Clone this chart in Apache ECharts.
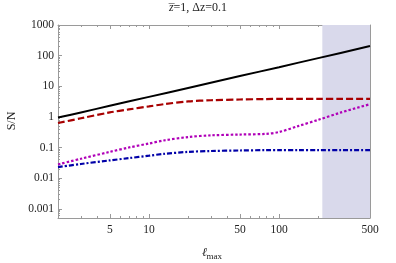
<!DOCTYPE html>
<html><head><meta charset="utf-8">
<script src="https://cdn.jsdelivr.net/npm/echarts@6/dist/echarts.min.js"></script>
<style>html,body{margin:0;padding:0;background:#fff}#c{width:396px;height:263px}</style>
</head><body><div id="c"></div>
<script>
// ---- data ----
const lmaxBlack = [2, 3, 5, 10, 20, 50, 100, 200, 500];
const snBlack   = [0.95, 1.4, 2.3, 4.5, 8.8, 21.5, 42, 83, 205];
const lmax      = [2, 3, 5, 7, 10, 13, 20, 30, 50, 80, 100, 140, 200, 300, 500];
const snRed     = [0.63, 0.9, 1.4, 1.75, 2.2, 2.6, 3.2, 3.5, 3.7, 3.83, 3.86, 3.88, 3.9, 3.9, 3.9];
const snMagenta = [0.028, 0.043, 0.072, 0.1, 0.135, 0.17, 0.22, 0.25, 0.265, 0.28, 0.32, 0.5, 0.8, 1.4, 2.6];
const snBlue    = [0.023, 0.029, 0.038, 0.045, 0.054, 0.062, 0.072, 0.077, 0.08, 0.082, 0.082, 0.082, 0.082, 0.082, 0.082];
const shadeRange = [215, 500];
const xTickLabels = [5, 10, 50, 100, 500];
const yTickLabels = [0.001, 0.01, 0.1, 1, 10, 100, 1000];
const xRange = [2, 500];
const yRange = [0.0005, 1000];

// minor ticks
const xMinor = [];
for (let d = 1; d <= 100; d *= 10) for (let k = 1; k <= 9; k++) { const v = k * d; if (v >= 2 && v <= 500 && xTickLabels.indexOf(v) < 0) xMinor.push(v); }
const yMinor = [];
for (let e = -4; e <= 2; e++) for (let k = 2; k <= 9; k++) { const v = +(k * Math.pow(10, e)).toPrecision(3); if (v >= yRange[0] && v <= yRange[1]) yMinor.push(v); }

const FONT = 'Liberation Serif';
const AX = '#9a9a9a';
const txt = '#222';

function xAx(pos, major, showLabel, showLine) {
  return {
    type: 'log', logBase: 10, min: xRange[0], max: xRange[1], position: pos,
    gridIndex: 0,
    axisLine: { show: showLine, lineStyle: { color: AX, width: 1 } },
    axisTick: { show: true, inside: true, length: major ? 4 : 2, lineStyle: { color: AX }, customValues: major ? xTickLabels : xMinor },
    axisLabel: { show: showLabel, customValues: xTickLabels, fontFamily: FONT, fontSize: 11.5, color: txt, margin: 6, formatter: v => String(v) },
    splitLine: { show: false }, minorTick: { show: false }
  };
}
function yAx(pos, major, showLabel, showLine) {
  return {
    type: 'log', logBase: 10, min: yRange[0], max: yRange[1], position: pos,
    gridIndex: 0,
    axisLine: { show: showLine, lineStyle: { color: AX, width: 1 } },
    axisTick: { show: true, inside: true, length: major ? 4 : 2, lineStyle: { color: AX }, customValues: major ? yTickLabels : yMinor },
    axisLabel: { show: showLabel, customValues: yTickLabels, fontFamily: FONT, fontSize: 11.5, color: txt, margin: 4, formatter: v => String(v) },
    splitLine: { show: false }, minorTick: { show: false }
  };
}

const chart = echarts.init(document.getElementById('c'), null, { renderer: 'canvas' });
chart.setOption({
  animation: false,
  backgroundColor: '#fff',
  grid: { left: 58, right: 26, top: 25, bottom: 45, containLabel: false },
  xAxis: [xAx('bottom', true, true, true), xAx('bottom', false, false, false), xAx('top', true, false, true), xAx('top', false, false, false)],
  yAxis: [yAx('left', true, true, true), yAx('left', false, false, false), yAx('right', true, false, true), yAx('right', false, false, false)],
  graphic: [
    { type: 'text', left: 'center', top: 2, style: { text: '{i|z̅}=1, Δz=0.1', rich: { i: { fontStyle: 'italic', fontFamily: FONT, fontSize: 12, fill: txt } }, font: '12px "Liberation Serif"', fill: txt }, x: 18 },
    { type: 'text', x: 202, y: 247, style: { text: 'ℓ', font: 'italic 12px "Liberation Serif"', fill: txt } },
    { type: 'text', x: 206.5, y: 252, style: { text: 'max', font: '9px "Liberation Serif"', fill: txt } },
    { type: 'text', x: 12, y: 121, rotation: Math.PI / 2, style: { text: 'S/N', font: '12px "Liberation Serif"', fill: txt, align: 'center', verticalAlign: 'middle' } }
  ],
  series: [
    { type: 'line', xAxisIndex: 0, yAxisIndex: 0, data: [], silent: true, z: 0,
      markArea: { silent: true, itemStyle: { color: '#d9d9eb' }, data: [[{ xAxis: shadeRange[0] }, { xAxis: shadeRange[1] }]] } },
    { type: 'line', xAxisIndex: 0, yAxisIndex: 0, data: lmaxBlack.map((x, i) => [x, snBlack[i]]), showSymbol: false, smooth: 0.3,
      lineStyle: { color: '#000', width: 2 } },
    { type: 'line', xAxisIndex: 0, yAxisIndex: 0, data: lmax.map((x, i) => [x, snRed[i]]), showSymbol: false, smooth: 0.3,
      lineStyle: { color: '#a80000', width: 2.2, type: [7, 3] } },
    { type: 'line', xAxisIndex: 0, yAxisIndex: 0, data: lmax.map((x, i) => [x, snMagenta[i]]), showSymbol: false, smooth: 0.3,
      lineStyle: { color: '#b000b8', width: 2.2, type: [2.5, 2] } },
    { type: 'line', xAxisIndex: 0, yAxisIndex: 0, data: lmax.map((x, i) => [x, snBlue[i]]), showSymbol: false, smooth: 0.3,
      lineStyle: { color: '#0000a8', width: 2.2, type: [5, 2, 2, 2] } }
  ]
});
</script></body></html>
